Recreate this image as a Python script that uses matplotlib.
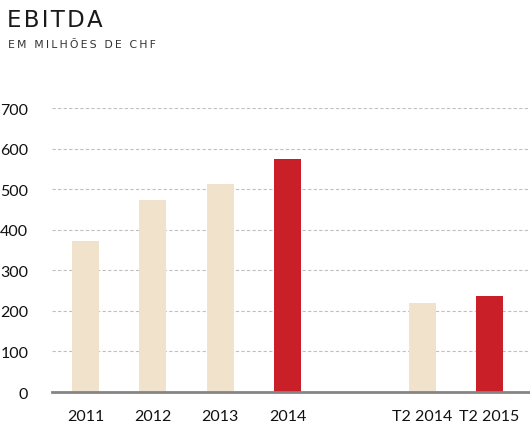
import matplotlib.pyplot as plt
import numpy as np

# dados
categorias = ['2011', '2012', '2013', '2014', 'T2 2014', 'T2 2015']
posicoes = [0, 1, 2, 3, 5, 6]
valores = [372, 473, 513, 574, 219, 237]
cores = ['#f1e2cc', '#f1e2cc', '#f1e2cc', '#c81f28', '#f1e2cc', '#c81f28']
yticks = [0, 100, 200, 300, 400, 500, 600, 700]

plt.rcParams['font.family'] = ['Lato', 'DejaVu Sans']

fig = plt.figure(figsize=(5.3, 4.31), dpi=100)
ax = fig.add_axes([0.098, 0.088, 0.902, 0.659])

ax.bar(posicoes, valores, width=0.4, color=cores, zorder=3)

ax.set_xlim(-0.5, 6.6)
ax.set_ylim(0, 700)
ax.set_yticks(yticks)
ax.set_xticks(posicoes)
ax.set_xticklabels(categorias)
ax.tick_params(axis='both', length=0, labelsize=11.5, colors='#111111')
ax.tick_params(axis='y', pad=17)
ax.tick_params(axis='x', pad=12)

ax.yaxis.grid(True, linestyle=(0, (3, 2)), color='#c0c0c0', linewidth=0.8, zorder=0)
for s in ['top', 'right', 'left']:
    ax.spines[s].set_visible(False)
ax.spines['bottom'].set_color('#858585')
ax.spines['bottom'].set_linewidth(2)
ax.spines['bottom'].set_zorder(4)

def espacado(txt, sep):
    return sep.join(txt)

fig.text(0.013, 0.953, espacado('EBITDA', '\u200a'), fontsize=16.5, color='#1a1a1a', va='center',
         family=['DejaVu Sans'])
fig.text(0.015, 0.895, espacado('EM MILHÕES DE CHF', '\u2009'), fontsize=7.8, color='#333333', va='center',
         family=['DejaVu Sans'])

fig.savefig('out.png', dpi=100)
